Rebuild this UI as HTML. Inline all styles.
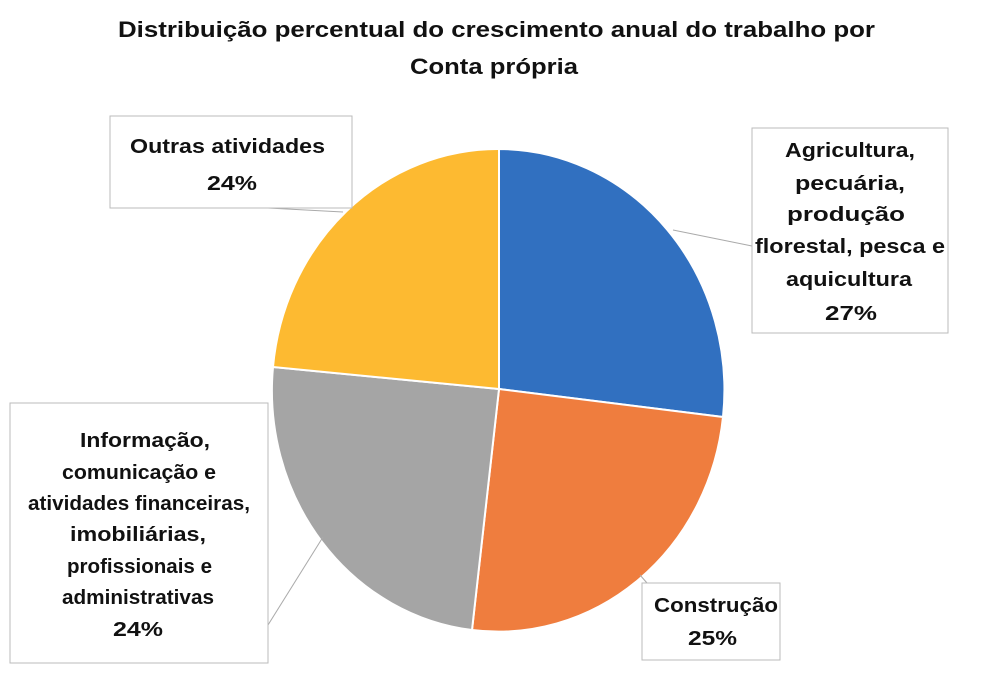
<!DOCTYPE html>
<html><head><meta charset="utf-8"><style>
body{margin:0;width:1000px;height:681px;background:#fff;overflow:hidden;font-family:"Liberation Sans",sans-serif;}
svg text{font-family:"Liberation Sans",sans-serif;font-weight:bold;fill:#111;}
</style></head><body>
<svg width="1000" height="681" viewBox="0 0 1000 681">
<text x="118" y="37" font-size="22" textLength="757" lengthAdjust="spacingAndGlyphs">Distribuição  percentual  do  crescimento  anual  do  trabalho  por</text>
<text x="410" y="74" font-size="22" textLength="168" lengthAdjust="spacingAndGlyphs">Conta própria</text>
<g stroke="#fff" stroke-width="2">
<path d="M499,389 L499,149 A226,241 0 0 1 723,417 Z" fill="#3170c0"/>
<path d="M499,389 L723,417 A226,241 0 0 1 472,630 Z" fill="#ef7d3e"/>
<path d="M499,389 L472,630 A226,241 0 0 1 273,367 Z" fill="#a5a5a5"/>
<path d="M499,389 L273,367 A226,241 0 0 1 499,149 Z" fill="#fdba31"/>
</g>
<g stroke="#aaa" stroke-width="1" fill="none">
<polyline points="230,206 343,212"/>
<polyline points="752,246 673,230"/>
<polyline points="268,625 323,537"/>
<polyline points="647,583 640,575"/>
</g>
<g fill="#fff" stroke="#bbb" stroke-width="1">
<rect x="110" y="116" width="242" height="92"/>
<rect x="752" y="128" width="196" height="205"/>
<rect x="10" y="403" width="258" height="260"/>
<rect x="642" y="583" width="138" height="77"/>
</g>
<g font-size="20" lengthAdjust="spacingAndGlyphs">
<text x="130" y="153" textLength="195" lengthAdjust="spacingAndGlyphs">Outras atividades</text>
<text x="207" y="190" textLength="50" lengthAdjust="spacingAndGlyphs">24%</text>
<text x="785" y="157" textLength="130" lengthAdjust="spacingAndGlyphs">Agricultura,</text>
<text x="795" y="190" textLength="110" lengthAdjust="spacingAndGlyphs">pecuária,</text>
<text x="787" y="221" textLength="118" lengthAdjust="spacingAndGlyphs">produção</text>
<text x="755" y="253" textLength="190" lengthAdjust="spacingAndGlyphs">florestal, pesca e</text>
<text x="786" y="286" textLength="126" lengthAdjust="spacingAndGlyphs">aquicultura</text>
<text x="825" y="320" textLength="52" lengthAdjust="spacingAndGlyphs">27%</text>
<text x="80" y="447" textLength="130" lengthAdjust="spacingAndGlyphs">Informação,</text>
<text x="62" y="479" textLength="154" lengthAdjust="spacingAndGlyphs">comunicação  e</text>
<text x="28" y="510" textLength="222" lengthAdjust="spacingAndGlyphs">atividades  financeiras,</text>
<text x="70" y="541" textLength="136" lengthAdjust="spacingAndGlyphs">imobiliárias,</text>
<text x="67" y="573" textLength="145" lengthAdjust="spacingAndGlyphs">profissionais  e</text>
<text x="62" y="604" textLength="152" lengthAdjust="spacingAndGlyphs">administrativas</text>
<text x="113" y="636" textLength="50" lengthAdjust="spacingAndGlyphs">24%</text>
<text x="654" y="612" textLength="124" lengthAdjust="spacingAndGlyphs">Construção</text>
<text x="688" y="645" textLength="49" lengthAdjust="spacingAndGlyphs">25%</text>
</g>
</svg>
</body></html>
